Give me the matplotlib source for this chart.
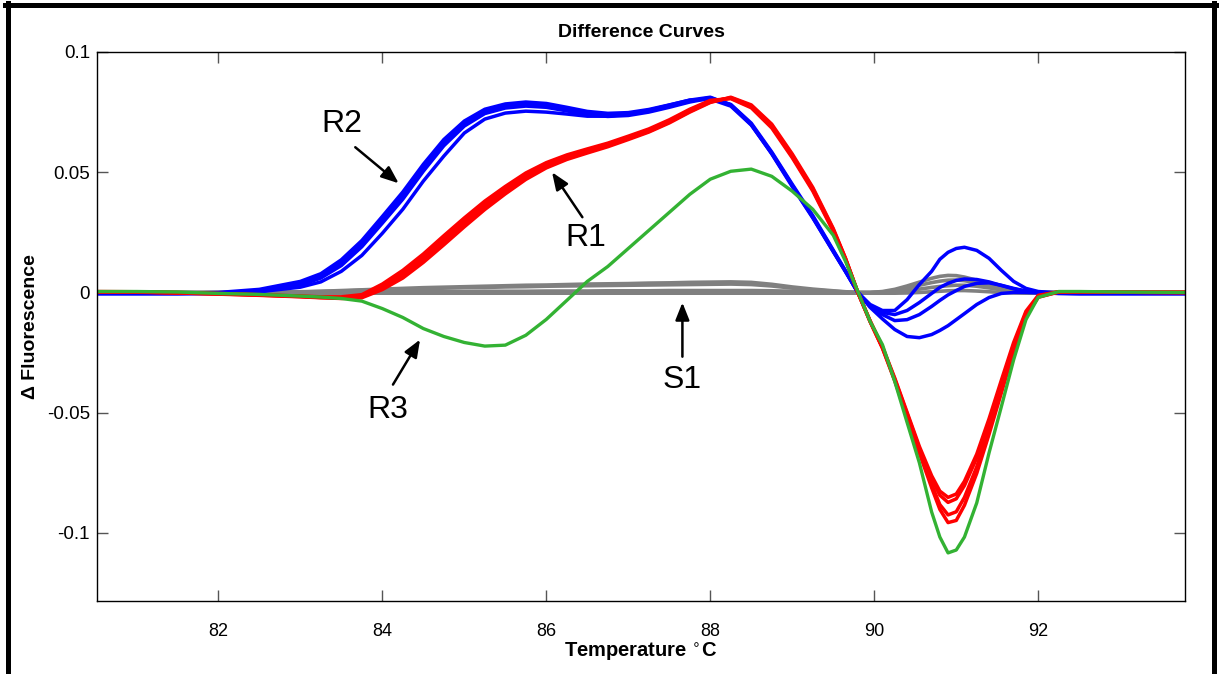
import numpy as np
import matplotlib
matplotlib.use("Agg")
import matplotlib.pyplot as plt
from matplotlib.lines import Line2D

plt.rcParams["font.family"] = ["Liberation Sans", "DejaVu Sans"]

# temperature grid (deg C)
temp = [80.5, 81.0, 81.5, 82.0, 82.5, 83.0, 83.25, 83.5, 83.75, 84.0, 84.25, 84.5,
        84.75, 85.0, 85.25, 85.5, 85.75, 86.0, 86.25, 86.5, 86.75, 87.0, 87.25, 87.5,
        87.75, 88.0, 88.25, 88.5, 88.75, 89.0, 89.25, 89.5, 89.65, 89.8, 89.95, 90.1,
        90.25, 90.4, 90.55, 90.7, 90.8, 90.9, 91.0, 91.1, 91.25, 91.4, 91.55, 91.7,
        91.85, 92.0, 92.25, 92.5, 93.0, 93.8]

# delta fluorescence, in units of 1e-3
gray_1 = [0, 0, 0, 0, 0.1, 0.3, 0.5, 0.8, 1.1, 1.4, 1.7, 2.0, 2.2, 2.4, 2.6, 2.8, 3.0, 3.1,
          3.3, 3.5, 3.6, 3.7, 3.9, 4.0, 4.2, 4.3, 4.4, 4.2, 3.4, 2.3, 1.4, 0.7, 0.3, 0.0,
          0.0, 0.4, 1.3, 2.7, 4.3, 5.9, 6.7, 7.1, 7.0, 6.4, 5.1, 3.6, 2.1, 1.0, 0.4, 0.1,
          0, 0, 0, 0]
gray_2 = [0, 0, 0, 0, 0, 0.2, 0.4, 0.6, 0.9, 1.1, 1.3, 1.6, 1.8, 2.0, 2.1, 2.3, 2.4, 2.6,
          2.7, 2.8, 2.9, 3.0, 3.1, 3.2, 3.3, 3.4, 3.5, 3.3, 2.7, 1.8, 1.1, 0.5, 0.2, 0.0,
          0.0, 0.2, 0.8, 1.8, 3.0, 4.1, 4.7, 5.1, 5.2, 4.9, 4.0, 2.9, 1.7, 0.8, 0.3, 0.1,
          0, 0, 0, 0]
gray_3 = [0, 0, 0, 0, 0, 0.0, 0.1, 0.1, 0.2, 0.2, 0.3, 0.3, 0.4, 0.4, 0.5, 0.5, 0.5, 0.6,
          0.6, 0.6, 0.7, 0.7, 0.7, 0.8, 0.8, 0.8, 0.8, 0.8, 0.7, 0.5, 0.3, 0.1, 0.0, 0.0,
          0.0, 0.1, 0.3, 0.8, 1.4, 2.1, 2.5, 2.8, 3.0, 3.0, 2.6, 1.9, 1.1, 0.5, 0.2, 0.0,
          0, 0, 0, 0]
gray_4 = [-0.3, -0.3, -0.3, -0.3, -0.3, -0.3, -0.3, -0.3, -0.3, -0.3, -0.3, -0.3, -0.3,
          -0.3, -0.3, -0.3, -0.3, -0.3, -0.3, -0.3, -0.3, -0.3, -0.3, -0.3, -0.3, -0.3,
          -0.3, -0.3, -0.3, -0.3, -0.3, -0.3, -0.3, -0.3, -0.3, -0.3, -0.3, -0.2, 0.0,
          0.3, 0.5, 0.7, 0.8, 0.8, 0.6, 0.3, 0.0, -0.2, -0.3, -0.3, -0.3, -0.3, -0.3, -0.3]

blue_1 = [-0.3, -0.3, -0.3, 0.0, 1.3, 4.6, 7.8, 13.6, 21.6, 31.6, 41.8, 53.3, 63.6, 71.3,
          76.2, 78.4, 79.2, 78.6, 77.0, 75.3, 74.5, 74.8, 76.1, 78.0, 80.0, 81.2, 78.0,
          69.8, 57.6, 44.0, 31.0, 17.0, 8.6, 0.0, -5.0, -7.5, -7.5, -3.0, 3.3, 8.8, 13.8,
          16.7, 18.3, 18.8, 17.5, 14.2, 9.2, 4.6, 1.7, 0.4, -0.2, -0.3, -0.3, -0.3]
blue_2 = [-0.4, -0.4, -0.4, -0.2, 0.8, 3.8, 7.0, 12.5, 20.4, 30.4, 40.4, 52.0, 62.5, 70.4,
          75.4, 77.5, 78.3, 77.8, 76.3, 74.6, 73.8, 74.2, 75.6, 77.5, 79.6, 81.0, 78.0,
          70.0, 58.0, 44.6, 31.5, 17.3, 8.8, 0.0, -5.5, -8.3, -9.2, -7.5, -4.2, -0.4, 2.1,
          3.8, 5.0, 5.6, 5.4, 4.4, 2.9, 1.5, 0.5, 0.0, -0.3, -0.4, -0.4, -0.4]
blue_3 = [-0.5, -0.5, -0.5, -0.4, 0.4, 3.0, 6.0, 11.2, 19.0, 28.8, 38.8, 50.4, 61.0, 69.2,
          74.4, 76.7, 77.5, 77.0, 75.5, 73.9, 73.2, 73.6, 75.0, 77.0, 79.2, 80.8, 78.2,
          70.4, 58.4, 45.0, 32.0, 17.6, 9.0, 0.0, -5.8, -9.2, -11.7, -11.3, -9.2, -5.8,
          -3.3, -1.0, 0.8, 2.5, 3.8, 4.0, 3.0, 1.7, 0.6, 0.0, -0.4, -0.5, -0.5, -0.5]
blue_4 = [-0.5, -0.5, -0.5, -0.4, 0.3, 2.2, 4.4, 8.8, 15.4, 24.6, 34.6, 46.3, 56.7, 66.3,
          72.1, 74.6, 75.4, 75.0, 74.2, 73.3, 73.3, 74.2, 75.8, 77.9, 80.0, 80.4, 77.5,
          69.6, 57.8, 44.4, 31.2, 17.0, 8.7, 0.0, -6.2, -11.0, -15.4, -18.3, -18.8, -17.5,
          -15.8, -13.8, -11.3, -8.8, -5.0, -2.1, -0.4, 0.0, 0.0, -0.2, -0.4, -0.5, -0.5,
          -0.5]

red_1 = [0.4, 0.3, 0.0, -0.4, -0.9, -1.5, -1.8, -1.8, -0.9, 3.5, 9.2, 16.0, 23.6, 31.0,
         38.0, 44.1, 49.7, 54.0, 57.2, 59.7, 62.1, 65.0, 68.0, 71.8, 76.2, 79.9, 80.6, 76.8,
         68.4, 56.0, 42.2, 25.4, 13.6, 0.0, -11.8, -22.5, -35.6, -49.8, -64.0, -76.2,
         -82.6, -85.2, -83.8, -78.5, -67.2, -52.5, -36.5, -20.8, -7.8, -1.2, 0.3, 0.3,
         0.1, 0.0]
red_2 = [0.3, 0.2, -0.1, -0.5, -1.0, -1.6, -2.0, -2.1, -1.5, 2.5, 8.0, 14.6, 22.1, 29.6,
         36.7, 42.9, 48.8, 53.3, 56.7, 59.2, 61.7, 64.6, 67.5, 71.3, 75.8, 79.6, 80.8, 77.2,
         69.0, 56.5, 42.7, 25.8, 13.8, 0.0, -12.0, -22.8, -36.0, -50.3, -64.8, -77.5,
         -84.3, -87.3, -85.8, -80.3, -68.8, -54.0, -37.8, -21.8, -8.5, -1.5, 0.3, 0.3,
         0.1, 0.0]
red_3 = [0.3, 0.2, -0.2, -0.6, -1.1, -1.7, -2.1, -2.3, -1.9, 1.8, 7.0, 13.5, 21.0, 28.5,
         35.6, 42.0, 48.0, 52.6, 56.0, 58.6, 61.1, 64.0, 67.0, 70.8, 75.3, 79.2, 81.0, 77.6,
         69.4, 57.0, 43.2, 26.2, 14.0, 0.0, -12.1, -23.0, -36.4, -51.0, -66.0, -79.8,
         -88.2, -92.5, -91.2, -85.2, -72.5, -56.8, -40.0, -23.4, -9.3, -1.8, 0.2, 0.3,
         0.1, 0.0]
red_4 = [0.2, 0.1, -0.2, -0.7, -1.2, -1.8, -2.2, -2.5, -2.2, 1.2, 6.0, 12.5, 19.8, 27.3,
         34.5, 41.0, 47.0, 51.8, 55.3, 58.0, 60.6, 63.6, 66.7, 70.5, 75.0, 79.0, 81.2, 78.0,
         70.0, 57.6, 43.7, 26.6, 14.2, 0.0, -12.2, -23.2, -36.8, -51.6, -66.8, -81.2,
         -90.2, -95.7, -94.8, -88.5, -75.2, -59.0, -41.8, -24.5, -9.8, -2.0, 0.2, 0.3,
         0.1, 0.0]

green_1 = [0.4, 0.4, 0.2, -0.4, -0.8, -1.5, -1.9, -2.5, -3.6, -6.7, -10.4, -15.0, -18.3,
           -20.8, -22.3, -21.9, -17.8, -11.2, -3.3, 4.6, 10.8, 18.3, 25.8, 33.3, 40.8, 47.1,
           50.4, 51.3, 48.3, 42.1, 34.6, 23.8, 12.9, 0.4, -12.1, -21.7, -37.0, -54.0,
           -70.8, -91.3, -101.7, -108.3, -107.1, -101.7, -87.5, -66.7, -47.5, -28.0,
           -11.3, -2.0, 0.4, 0.4, 0.2, 0.0]

GRAY, BLUE, RED, GREEN = "#808080", "#0000ff", "#ff0000", "#33b233"

t = np.array(temp)
fig = plt.figure(figsize=(12.19, 6.74), dpi=100)
ax = fig.add_axes([97 / 1219, 73 / 674, 1088 / 1219, 549 / 674])

for s in [gray_1, gray_2, gray_3, gray_4]:
    ax.plot(t, np.array(s) / 1000, color=GRAY, lw=2.6, solid_joinstyle="round")
for s in [blue_4, blue_3, blue_2, blue_1]:
    ax.plot(t, np.array(s) / 1000, color=BLUE, lw=2.5, solid_joinstyle="round")
for s in [red_4, red_3, red_2, red_1]:
    ax.plot(t, np.array(s) / 1000, color=RED, lw=2.5, solid_joinstyle="round")
ax.plot(t, np.array(green_1) / 1000, color=GREEN, lw=2.4, solid_joinstyle="round")

ax.set_xlim(80.52, 93.79)
ax.set_ylim(-0.1283, 0.1)
ax.set_xticks([82, 84, 86, 88, 90, 92])
ax.set_xticklabels(["82", "84", "86", "88", "90", "92"], fontsize=13)
ax.set_yticks([-0.1, -0.05, 0, 0.05, 0.1])
ax.set_yticklabels(["-0.1", "-0.05", "0", "0.05", "0.1"], fontsize=13.5)
ax.tick_params(direction="in", length=8, width=1, color="#555555",
               top=True, right=True)
ax.tick_params(axis="x", pad=16)
ax.tick_params(axis="y", pad=5)
for sp in ax.spines.values():
    sp.set_linewidth(1.0)

ax.set_title("Difference Curves", fontsize=14, fontweight="bold", pad=11)
ax.set_xlabel("Temperature $^{\\circ}$C", fontsize=14.5, fontweight="bold", labelpad=0)
ax.set_ylabel("\u0394 Fluorescence", fontsize=14, fontweight="bold", labelpad=6)

# labels and arrows
arr = dict(arrowstyle="-|>,head_length=0.75,head_width=0.3", color="black",
           lw=1.8, mutation_scale=14, shrinkA=0, shrinkB=0)
labels = [("R2", (83.51, 0.070), (83.67, 0.0604), (84.2, 0.0454)),
          ("R1", (86.48, 0.0225), (86.44, 0.0313), (86.07, 0.050)),
          ("R3", (84.07, -0.0488), (84.13, -0.0383), (84.46, -0.0196)),
          ("S1", (87.66, -0.0363), (87.66, -0.0267), (87.66, -0.0042))]
for name, tpos, tail, tip in labels:
    ax.text(*tpos, name, fontsize=23, ha="center", va="center")
    ax.annotate("", xy=tip, xytext=tail, arrowprops=arr)

# outer frame of the original figure panel
fig.add_artist(Line2D([7.5 / 1219, 7.5 / 1219], [0, 1 - 3 / 674], color="black", lw=3.6))
fig.add_artist(Line2D([1214 / 1219, 1214 / 1219], [0, 1 - 3 / 674], color="black", lw=3.6))
fig.add_artist(Line2D([5 / 1219, 1216 / 1219], [1 - 5 / 674, 1 - 5 / 674], color="black", lw=3.6))

fig.savefig("out.png", dpi=100)
